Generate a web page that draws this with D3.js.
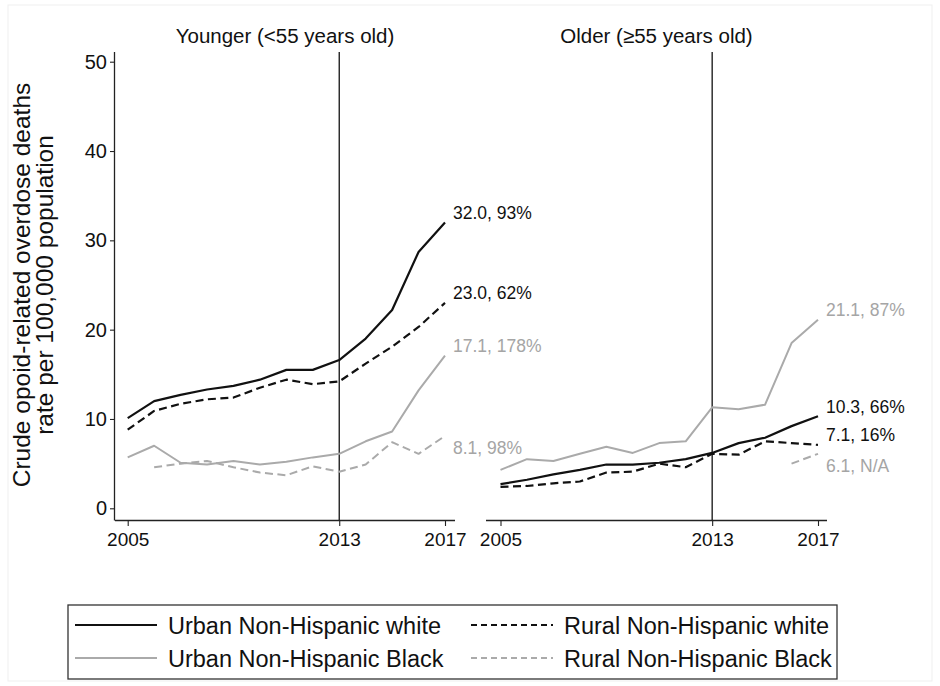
<!DOCTYPE html>
<html>
<head>
<meta charset="utf-8">
<script src="https://cdn.jsdelivr.net/npm/d3@7"></script>
<style>
  html, body { margin: 0; padding: 0; background: #fff; }
  svg { display: block; font-family: "Liberation Sans", Arial, Helvetica, sans-serif; }
</style>
</head>
<body>
<svg id="chart" width="940" height="686"></svg>
<script>
// ---------------- data ----------------
const years = [2005, 2006, 2007, 2008, 2009, 2010, 2011, 2012, 2013, 2014, 2015, 2016, 2017];
const yTicks = [0, 10, 20, 30, 40, 50];
const xTicks = [2005, 2013, 2017];
const panelTitles = ["Younger (<55 years old)", "Older (\u226555 years old)"];
const seriesNames = ["Urban Non-Hispanic white", "Rural Non-Hispanic white", "Urban Non-Hispanic Black", "Rural Non-Hispanic Black"];

// Younger (<55)
const youngUrbanWhite = [10.1, 12.0, 12.7, 13.3, 13.7, 14.4, 15.5, 15.5, 16.6, 19.0, 22.2, 28.7, 32.0];
const youngRuralWhite = [8.8, 10.9, 11.7, 12.2, 12.4, 13.5, 14.4, 13.9, 14.2, 16.2, 18.1, 20.3, 23.0];
const youngUrbanBlack = [5.7, 7.0, 5.1, 4.9, 5.3, 4.9, 5.2, 5.7, 6.1, 7.5, 8.6, 13.2, 17.1];
const youngRuralBlack = [null, 4.6, 5.0, 5.3, 4.6, 4.0, 3.7, 4.7, 4.1, 4.9, 7.4, 6.1, 8.1];
const youngLabels = ["32.0, 93%", "23.0, 62%", "17.1, 178%", "8.1, 98%"];

// Older (>=55)
const oldUrbanWhite = [2.7, 3.2, 3.8, 4.3, 4.9, 4.9, 5.1, 5.5, 6.2, 7.3, 7.9, 9.2, 10.3];
const oldRuralWhite = [2.4, 2.5, 2.8, 3.0, 4.0, 4.1, 5.0, 4.6, 6.1, 6.0, 7.5, 7.3, 7.1];
const oldUrbanBlack = [4.3, 5.5, 5.3, 6.1, 6.9, 6.2, 7.3, 7.5, 11.3, 11.1, 11.6, 18.5, 21.1];
const oldRuralBlack = [null, null, null, null, null, null, null, null, null, null, null, 5.0, 6.1];
const oldLabels = ["10.3, 66%", "7.1, 16%", "21.1, 87%", "6.1, N/A"];

// ---------------- styles ----------------
const styles = [
  { color: "#111111", width: 2.2, dash: null, labelColor: "#111111" },
  { color: "#111111", width: 2.2, dash: "8,4.5", labelColor: "#111111" },
  { color: "#aaaaaa", width: 2.0, dash: null, labelColor: "#a5a5a5" },
  { color: "#aaaaaa", width: 2.0, dash: "8,4.5", labelColor: "#a5a5a5" }
];

const svg = d3.select("#chart");

// faint outer frame
svg.append("rect").attr("x", 8).attr("y", 5).attr("width", 924).attr("height", 676)
  .attr("fill", "none").attr("stroke", "#efefef").attr("stroke-width", 1);

const y = d3.scaleLinear().domain([0, 50]).range([508.3, 61.7]);
const plotTop = 52, plotBottom = 520;

const panels = [
  { title: panelTitles[0], series: [youngUrbanWhite, youngRuralWhite, youngUrbanBlack, youngRuralBlack], labels: youngLabels,
    x: d3.scaleLinear().domain([2005, 2017]).range([127.7, 445]), left: 115, right: 455, yAxis: true },
  { title: panelTitles[1], series: [oldUrbanWhite, oldRuralWhite, oldUrbanBlack, oldRuralBlack], labels: oldLabels,
    x: d3.scaleLinear().domain([2005, 2017]).range([500.5, 818]), left: 486, right: 827, yAxis: false }
];

panels.forEach(p => {
  const g = svg.append("g");
  // title
  g.append("text").attr("x", (p.left + p.right) / 2).attr("y", 43)
    .attr("text-anchor", "middle").attr("font-size", 20.5).attr("fill", "#111").text(p.title);

  // x axis
  const xAxis = d3.axisBottom(p.x).tickValues(xTicks).tickFormat(d3.format("d")).tickSize(6).tickPadding(7);
  const xg = g.append("g").attr("transform", `translate(0,${plotBottom})`).call(xAxis);
  xg.select(".domain").attr("d", `M${p.left},0.5H${p.right}`).attr("stroke", "#222").attr("stroke-width", 1.3);
  xg.selectAll(".tick line").attr("stroke", "#222").attr("stroke-width", 1.1);
  xg.selectAll(".tick text").attr("font-size", 19).attr("fill", "#111").attr("font-family", "Liberation Sans, Arial, sans-serif");

  if (p.yAxis) {
    const yAxis = d3.axisLeft(y).tickValues(yTicks).tickSize(5).tickPadding(3);
    const yg = g.append("g").attr("transform", `translate(${p.left},0)`).call(yAxis);
    yg.select(".domain").attr("d", `M-0.5,${plotTop}V${plotBottom + 0.5}`).attr("stroke", "#222").attr("stroke-width", 1.3);
    yg.selectAll(".tick line").attr("stroke", "#222").attr("stroke-width", 1.1);
    yg.selectAll(".tick text").attr("font-size", 20).attr("fill", "#111").attr("font-family", "Liberation Sans, Arial, sans-serif");
  }

  // vertical reference line at 2013
  g.append("line").attr("x1", p.x(2013)).attr("x2", p.x(2013)).attr("y1", plotTop).attr("y2", plotBottom)
    .attr("stroke", "#111").attr("stroke-width", 1.3);

  // lines (draw gray first, then black)
  const order = [3, 2, 1, 0];
  order.forEach(i => {
    const vals = p.series[i];
    const st = styles[i];
    const line = d3.line().defined(d => d[1] != null).x(d => p.x(d[0])).y(d => y(d[1]));
    g.append("path").datum(years.map((yr, k) => [yr, vals[k]]))
      .attr("d", line).attr("fill", "none").attr("stroke", st.color).attr("stroke-width", st.width)
      .attr("stroke-dasharray", st.dash).attr("stroke-linejoin", "round");
  });

  // end labels
  p.series.forEach((vals, i) => {
    const last = vals[vals.length - 1];
    const dy = i === 3 ? 18 : -3.5;
    g.append("text").attr("x", p.x(years[years.length - 1]) + 8).attr("y", y(last) + dy)
      .attr("font-size", 17.5).attr("fill", styles[i].labelColor).text(p.labels[i]);
  });
});

// y axis title
const yt = svg.append("text").attr("transform", "translate(0,285) rotate(-90)")
  .attr("text-anchor", "middle").attr("font-size", 24.5).attr("fill", "#111");
yt.append("tspan").attr("x", 0).attr("y", 30).text("Crude opoid-related overdose deaths");
yt.append("tspan").attr("x", 0).attr("y", 53).text("rate per 100,000 population");

// legend
const lg = svg.append("g");
lg.append("rect").attr("x", 68).attr("y", 605).attr("width", 769).attr("height", 74)
  .attr("fill", "#fff").attr("stroke", "#333").attr("stroke-width", 1.3);
const colX = [75, 471], rowY = [625, 658];
[[0, 1], [2, 3]].forEach((row, r) => {
  row.forEach((si, c) => {
    const st = styles[si];
    lg.append("line").attr("x1", colX[c]).attr("x2", colX[c] + 82).attr("y1", rowY[r]).attr("y2", rowY[r])
      .attr("stroke", st.color).attr("stroke-width", st.width)
      .attr("stroke-dasharray", st.dash ? "6,4" : null);
    lg.append("text").attr("x", colX[c] + 93).attr("y", rowY[r] + 9)
      .attr("font-size", 23.5).attr("fill", "#111").text(seriesNames[si]);
  });
});
</script>
</body>
</html>
